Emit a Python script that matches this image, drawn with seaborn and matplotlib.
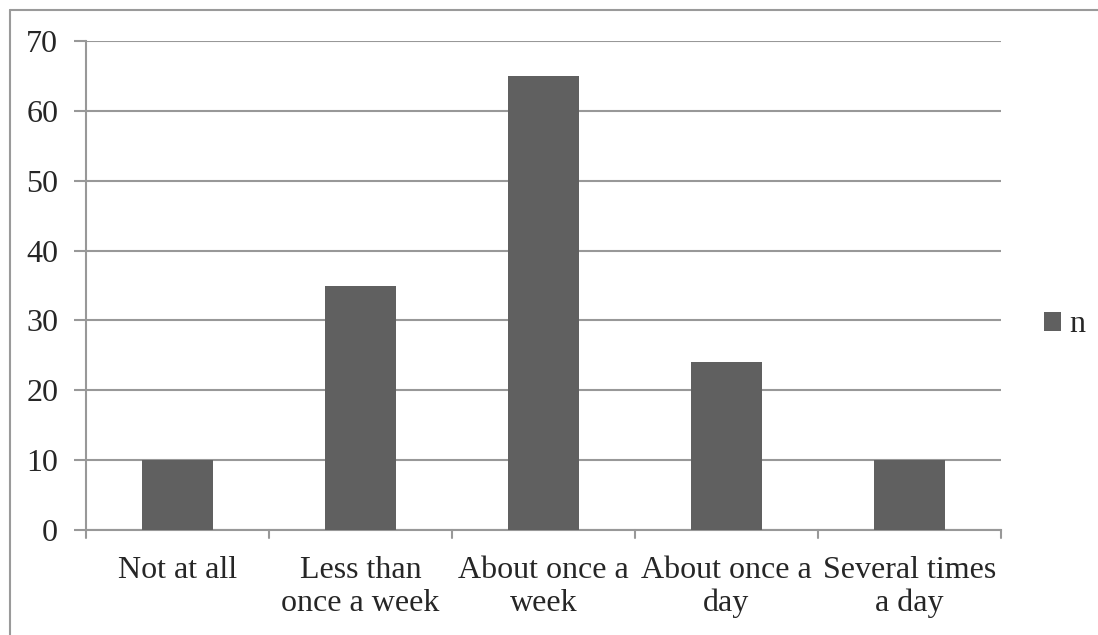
import matplotlib
matplotlib.use("Agg")
import matplotlib.pyplot as plt
from matplotlib.lines import Line2D
from matplotlib.patches import Patch
import seaborn as sns
import pandas as pd

categories = ["Not at all", "Less than\nonce a week", "About once a\nweek",
              "About once a\nday", "Several times\na day"]
counts = [10, 35, 65, 24, 10]
y_ticks = [0, 10, 20, 30, 40, 50, 60, 70]
series_name = "n"

sns.set_theme(style="white")
plt.rcParams["font.family"] = ["Liberation Serif", "DejaVu Serif"]

bar_color = "#606060"
grid_color = "#989898"

fig = plt.figure(figsize=(10.98, 6.35), dpi=100)
ax = fig.add_axes([86 / 1098, 1 - 530 / 635, (1001 - 86) / 1098, (530 - 41) / 635])

df = pd.DataFrame({"category": categories, "n": counts})
sns.barplot(data=df, x="category", y="n", color=bar_color, width=0.39,
            saturation=1, ax=ax, zorder=3, edgecolor="none")

ax.set_xlim(-0.5, len(categories) - 0.5)
ax.set_ylim(0, 70)
ax.set_yticks(y_ticks)
ax.set_xlabel("")
ax.set_ylabel("")

# horizontal gridlines extending out as tick marks on the left
for v in y_ticks:
    ax.axhline(v, color=grid_color, lw=1.5, zorder=1)
ax.tick_params(axis="y", which="major", length=9, width=1.5, color=grid_color,
               labelsize=23, pad=11, left=True)
ax.tick_params(axis="x", which="major", length=0, labelsize=23, pad=19)
for lbl in ax.get_xticklabels():
    lbl.set_linespacing(1.15)

# category boundary ticks below the baseline
for b in range(len(categories) + 1):
    ax.plot([b - 0.5, b - 0.5], [0, -1.2], color=grid_color, lw=1.5,
            clip_on=False, zorder=2)

for side in ["top", "right"]:
    ax.spines[side].set_visible(False)
ax.spines["left"].set_color(grid_color)
ax.spines["left"].set_linewidth(1.5)
ax.spines["bottom"].set_color(grid_color)
ax.spines["bottom"].set_linewidth(1.5)

handles = [Patch(facecolor=bar_color, edgecolor="none", label=series_name)]
fig.legend(handles=handles, loc="center left", bbox_to_anchor=(1044 / 1098, 1 - 325 / 635),
           frameon=False, fontsize=23, handlelength=0.53, handleheight=0.53,
           handletextpad=0.25, borderpad=0, borderaxespad=0)

# chart area border (left and top edges)
fig.add_artist(Line2D([9.5 / 1098, 9.5 / 1098], [0, 1 - 9.5 / 635],
                      transform=fig.transFigure, color="#9a9a9a", lw=1.5))
fig.add_artist(Line2D([9.5 / 1098, 1], [1 - 9.5 / 635, 1 - 9.5 / 635],
                      transform=fig.transFigure, color="#9a9a9a", lw=1.5))

fig.savefig("out.png", dpi=100)
